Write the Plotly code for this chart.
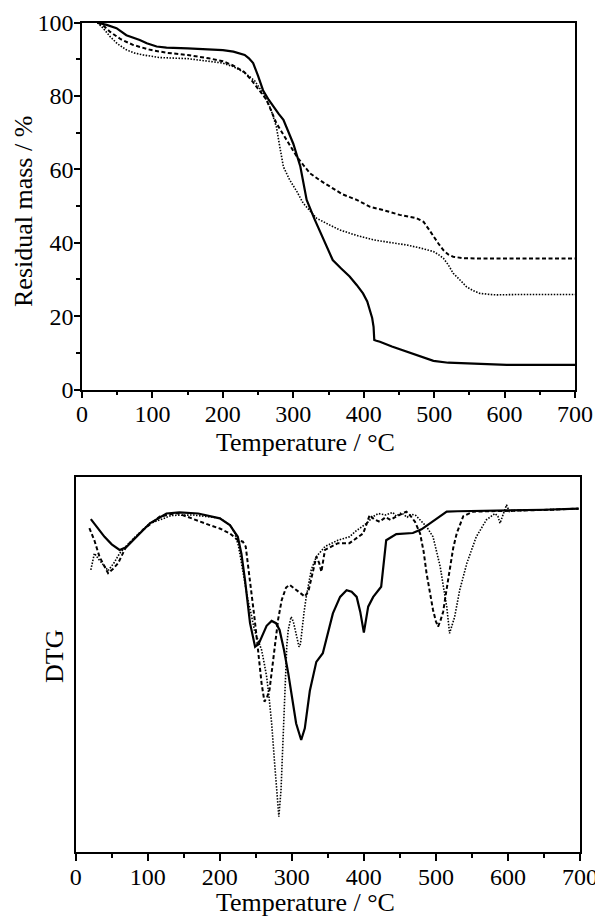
import plotly.graph_objects as go

# --- TG curves (residual mass, %) ---
tg_solid_t = [22, 35, 49, 63, 82, 92, 106, 120, 150, 180, 200, 215, 225, 231, 237, 243, 250, 257, 265, 272,
              279, 286, 293, 300, 310, 319, 330, 343, 356, 368, 380, 390, 399, 405, 409, 412, 414, 415, 418, 423,
              440, 461, 480, 499, 520, 541, 570, 603, 650, 700]
tg_solid = [100, 99.4, 98.5, 96.6, 95.3, 94.4, 93.5, 93.2, 93.0, 92.8, 92.5, 92.1, 91.6, 91.2, 90.3, 89, 85.5, 81.6, 79, 77,
            75.2, 73.5, 70.5, 67, 60.8, 51.7, 46.5, 40.8, 35.3, 33.0, 30.8, 28.5, 26.2, 24.0, 21.7, 19.5, 17.1, 13.5, 13.3, 13.0,
            11.7, 10.3, 9.0, 7.8, 7.3, 7.1, 6.9, 6.7, 6.7, 6.7]

tg_dash_t = [22, 30, 40, 55, 73, 97, 120, 150, 180, 200, 215, 230, 240, 250, 262, 276, 291, 305, 315, 324,
             338, 352, 370, 390, 409, 428, 451, 475, 485, 492, 499, 506, 513, 520, 527, 541, 570, 620, 700]
tg_dash = [100, 99.3, 97.5, 95.5, 93.9, 92.6, 91.8, 91.2, 90.3, 89.5, 88.3, 86.6, 84.5, 82, 79, 72.6, 68, 63.5, 61, 58.9,
           57, 55.3, 53.2, 51.7, 49.8, 48.9, 47.6, 46.7, 45.7, 43.8, 41.7, 39.8, 38, 36.8, 36.2, 35.8, 35.7, 35.7, 35.7]

tg_dot_t = [22, 30, 40, 50, 63, 75, 87, 110, 150, 180, 200, 215, 230, 245, 258, 268, 276, 281, 286, 295,
            305, 314, 324, 333, 350, 366, 390, 414, 440, 461, 480, 499, 506, 513, 520, 527, 537, 546, 556, 565,
            580, 589, 620, 660, 700]
tg_dot = [100, 98.5, 96.2, 94.3, 92.6, 91.7, 91.2, 90.5, 90.2, 89.6, 89.0, 88.0, 86.5, 84.2, 80.5, 76.5, 71.6, 66, 60.7, 57.1,
          54, 50.8, 48.5, 46.7, 45, 43.5, 42, 40.8, 40, 39.4, 38.6, 37.6, 36.8, 35.8, 34, 31.7, 29.8, 28.0, 26.9, 26.2,
          25.9, 25.8, 25.9, 25.9, 25.9]

# --- DTG curves (arbitrary units) ---
dtg_solid_t = [21, 30, 40, 50, 61, 70, 80, 103, 126, 144, 170, 200, 214, 220, 225, 230, 235, 242, 249, 254,
               258, 265, 272, 278, 283, 289, 295, 301, 306, 313, 318, 325, 334, 343, 350, 357, 367, 376, 383, 390,
               395, 400, 406, 413, 424, 431, 445, 468, 480, 492, 505, 515, 530, 600, 650, 698]
dtg_solid = [-11.3, -13.5, -16, -18, -19.5, -18.8, -16.9, -12.4, -9.8, -9.5, -9.8, -11.1, -12.9, -14.5, -16, -20.5, -27.5, -39, -45.3, -44.5,
             -42.6, -39.7, -38.4, -39, -40.8, -46, -52.3, -60, -65.7, -70.1, -67, -57, -49.3, -47, -42, -36.4, -32, -30.2, -30.6, -32,
             -36, -41.5, -34.6, -32, -29.3, -16.9, -15.3, -15.0, -14, -12.4, -10.5, -9.3, -9.2, -9.0, -8.8, -8.5]

dtg_dash_t = [19, 26, 33, 40, 45, 52, 59, 70, 93, 117, 140, 154, 170, 186, 200, 214, 225, 232, 236, 239,
              244, 248, 253, 258, 262, 266, 269, 276, 281, 286, 292, 297, 306, 312, 318, 323, 328, 334, 338, 341,
              346, 355, 364, 380, 392, 399, 404, 408, 414, 422, 430, 437, 445, 452, 459, 465, 471, 478, 483, 487,
              492, 496, 500, 503, 506, 510, 514, 519, 524, 529, 538, 552, 580, 620, 660, 698]
dtg_dash = [-13.7, -17, -21.3, -24, -25.7, -24.5, -23, -18.6, -14.2, -10.6, -9.7, -10.6, -11.8, -12.9, -13.8, -15.1, -16.9, -17.3, -18.6, -23,
            -30, -37.3, -46, -55, -59.9, -58.5, -56.8, -45.3, -38, -32.8, -29.5, -28.8, -30.2, -31.2, -31.9, -30.5, -26, -21.3, -23, -25.3,
            -19.5, -18.5, -17.7, -17.7, -16, -15.1, -12.5, -10.2, -11.3, -12.0, -10.8, -11.5, -10.6, -10.0, -9.3, -10.5, -12.0, -15.1, -20, -25.7,
            -31, -35.5, -38.5, -39.9, -38.5, -36, -31, -25, -19, -15, -10.5, -9.3, -9.1, -9.0, -8.8, -8.5]

dtg_dot_t = [21, 26, 32, 38, 45, 53, 61, 80, 103, 117, 133, 163, 200, 215, 221, 226, 230, 235, 239, 244,
             248, 253, 258, 262, 265, 268, 272, 276, 279, 282, 285, 288, 290, 293, 295, 299, 302, 305, 308, 310,
             312, 314, 317, 320, 327, 334, 346, 364, 380, 388, 404, 413, 420, 430, 440, 445, 452, 460, 466, 472,
             478, 487, 496, 501, 506, 511, 515, 519, 522, 526, 533, 543, 556, 570, 582, 586, 589, 593, 598, 602,
             610, 640, 670, 698]
dtg_dot = [-24.8, -20.4, -22, -23.5, -25, -23, -20.4, -16.5, -12.4, -11.5, -10.3, -10.2, -11, -13, -15.1, -18.5, -23, -28, -32.8, -37,
           -40.8, -43.5, -46.1, -50, -53.2, -58, -65.7, -76, -83.4, -90.5, -83.4, -68, -56.8, -45, -40.8, -37.3, -38.5, -40.8, -43.5, -45.3,
           -44.5, -40.8, -36, -32, -24.8, -21.3, -18.6, -16.9, -16, -14.6, -12.4, -10.6, -9.8, -10.2, -9.5, -10.5, -9.6, -10.8, -10, -10.3,
           -11.5, -13.3, -16, -20, -24, -30, -34.6, -41.7, -40, -37.3, -30.2, -23, -16, -11.5, -9.8, -10.5, -12.4, -10, -7.5, -9.3,
           -9.0, -8.9, -8.7, -8.5]

W, H = 595, 916
FONT = "Liberation Serif"


def px(x):
    return x / W


def py(y):
    return 1 - y / H


solid = dict(color="black", width=2.2)
dashed = dict(color="black", width=2, dash="4px,2.5px")
dotted = dict(color="black", width=1.6, dash="1.5px,1.5px")

fig = go.Figure()
for t, y, ln in [(tg_solid_t, tg_solid, solid), (tg_dash_t, tg_dash, dashed), (tg_dot_t, tg_dot, dotted)]:
    fig.add_trace(go.Scatter(x=t, y=y, mode="lines", line=ln, xaxis="x", yaxis="y", showlegend=False))
for t, y, ln in [(dtg_solid_t, dtg_solid, solid), (dtg_dash_t, dtg_dash, dashed), (dtg_dot_t, dtg_dot, dotted)]:
    fig.add_trace(go.Scatter(x=t, y=y, mode="lines", line=ln, xaxis="x2", yaxis="y2", showlegend=False))

ax_common = dict(showgrid=False, zeroline=False, showline=True, linecolor="black", linewidth=1.5, mirror=True,
                 automargin=False, ticklabeloverflow="allow",
                 tickfont=dict(family=FONT, size=24, color="black"), tickcolor="black")
xtick = dict(range=[0, 700], tickmode="linear", tick0=0, dtick=100, ticks="outside", ticklen=7, tickwidth=1.5,
             ticklabelstandoff=-5,
             minor=dict(dtick=50, ticks="outside", ticklen=4, tickwidth=1.5, tickcolor="black"))

fig.update_layout(
    template="none",
    width=W, height=H,
    margin=dict(l=0, r=0, t=0, b=0, autoexpand=False),
    paper_bgcolor="white", plot_bgcolor="white",
    font=dict(family=FONT, color="black"),
    xaxis=dict(domain=[px(82), px(575)], anchor="y", **xtick, **ax_common),
    yaxis=dict(domain=[py(389.5), py(22.7)], anchor="x", range=[0, 100], tickmode="linear", tick0=0, dtick=20,
               ticks="outside", ticklen=6, tickwidth=1.5, ticklabelstandoff=-4,
               minor=dict(dtick=10, ticks="outside", ticklen=4, tickwidth=1.5, tickcolor="black"), **ax_common),
    xaxis2=dict(domain=[px(75.7), px(580)], anchor="y2", **xtick, **ax_common),
    yaxis2=dict(domain=[py(852.3), py(476.7)], anchor="x2", range=[-100, 0], showticklabels=False,
                ticks="", **ax_common),
)

title_font = dict(family=FONT, size=26, color="black")
fig.add_annotation(text="Temperature / °C", x=px(305), y=py(443), xref="paper", yref="paper",
                   showarrow=False, font=title_font, xanchor="center", yanchor="middle")
fig.add_annotation(text="Residual mass / %", x=px(23), y=py(212), xref="paper", yref="paper",
                   showarrow=False, font=title_font, textangle=-90, xanchor="center", yanchor="middle")
fig.add_annotation(text="Temperature / °C", x=px(305), y=py(902), xref="paper", yref="paper",
                   showarrow=False, font=title_font, xanchor="center", yanchor="middle")
fig.add_annotation(text="DTG", x=px(54), y=py(657), xref="paper", yref="paper",
                   showarrow=False, font=title_font, textangle=-90, xanchor="center", yanchor="middle")

# drop the default 8px page margin so the figure fills the window exactly
fig.write_html("out.html", config={"displayModeBar": False},
               post_script="document.body.style.margin='0';document.body.style.overflow='hidden';")
